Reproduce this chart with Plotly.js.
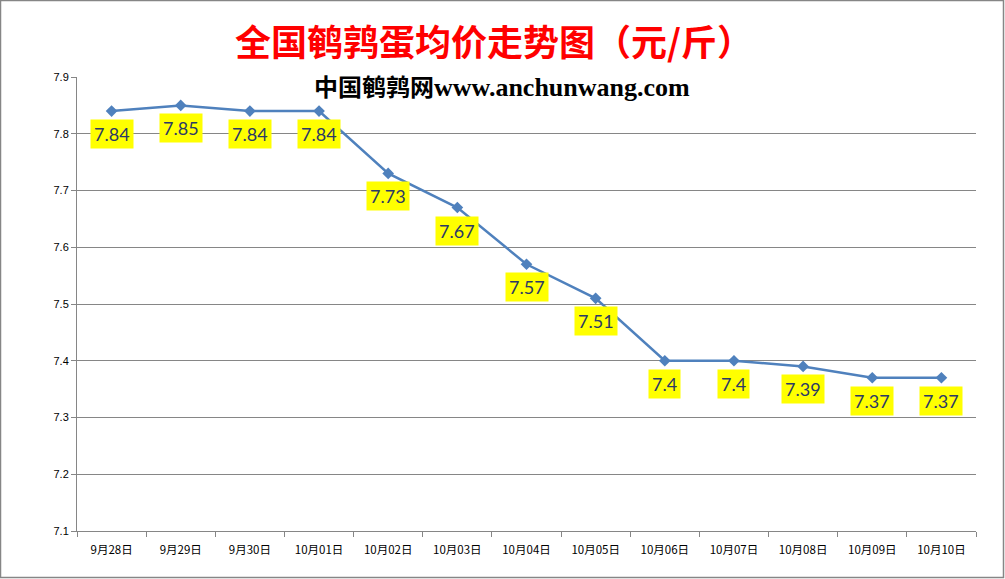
<!DOCTYPE html>
<html><head><meta charset="utf-8">
<script src="https://cdn.plot.ly/plotly-3.0.1.min.js"></script>
<style>html,body{margin:0;padding:0;background:#fff}#chart{width:1005px;height:579px}</style>
</head><body><div id="chart"></div>
<script>
const categories = ["9月28日","9月29日","9月30日","10月01日","10月02日","10月03日","10月04日","10月05日","10月06日","10月07日","10月08日","10月09日","10月10日"];
const prices = [7.84,7.85,7.84,7.84,7.73,7.67,7.57,7.51,7.4,7.4,7.39,7.37,7.37];
const yTicks = [7.1,7.2,7.3,7.4,7.5,7.6,7.7,7.8,7.9];

const W=1005,H=579,L=77,R=29,T=77,B=48;
const pw=W-L-R, ph=H-T-B;

const annotations = prices.map((v,i)=>({
  x: categories[i], y: v, xref:'x', yref:'y', text: String(v), showarrow:false,
  yshift:-23, bgcolor:'#FFFF00', borderpad:3,
  font:{family:'Lato, "Liberation Sans", sans-serif', size:18, color:'#2B3966'}
}));
annotations.push({
  xref:'paper', yref:'paper', x:(502-L)/pw, y:(T+ph-85)/ph, xanchor:'center', yanchor:'middle',
  showarrow:false,
  text:'<b><span style="font-family:\'Noto Sans CJK SC\';font-size:24px">中国鹌鹑网</span><span style="font-family:\'Liberation Serif\';font-size:26px">www.anchunwang.com</span></b>',
  font:{size:24, color:'#000'}
});

const layout = {
  width:W, height:H, margin:{l:L,r:R,t:T,b:B},
  paper_bgcolor:'#fff', plot_bgcolor:'#fff', showlegend:false,
  title:{text:'<b>全国鹌鹑蛋均价走势图（元/斤）</b>', x:494/W, xanchor:'center', xref:'container', yref:'container', y:1-43/H, yanchor:'middle',
    font:{family:'"Noto Sans CJK SC", sans-serif', size:36, color:'#FF0000'}},
  xaxis:{type:'category', range:[-0.5, categories.length-0.5], tickson:'boundaries', ticks:'outside', ticklen:5, tickcolor:'#868686',
    ticklabelstandoff:8,
    showline:true, linecolor:'#868686', linewidth:1, showgrid:false, zeroline:false,
    tickfont:{family:'"Noto Sans CJK SC", sans-serif', size:11.5, color:'#000'}, fixedrange:true},
  yaxis:{range:[7.1,7.9], tickvals:yTicks, ticktext:yTicks.map(v=>v.toFixed(1)), ticks:'outside', ticklen:5, tickcolor:'#868686',
    showline:true, linecolor:'#868686', linewidth:1, showgrid:true, gridcolor:'#868686', gridwidth:1, zeroline:false,
    tickfont:{family:'"Liberation Sans", sans-serif', size:11, color:'#000'}},
  annotations: annotations,
  shapes:[{type:'rect', xref:'paper', yref:'paper', x0:(0.5-L)/pw, x1:(W-1.5-L)/pw, y0:-(B-1.5)/ph, y1:1+(T-0.5)/ph,
    line:{color:'#868686', width:1.5}}]
};

Plotly.newPlot('chart', [{
  x:categories, y:prices, type:'scatter', mode:'lines+markers',
  line:{color:'#4F81BD', width:2.5}, marker:{symbol:'diamond', size:9, color:'#4F81BD'}
}], layout, {staticPlot:true});
</script></body></html>
